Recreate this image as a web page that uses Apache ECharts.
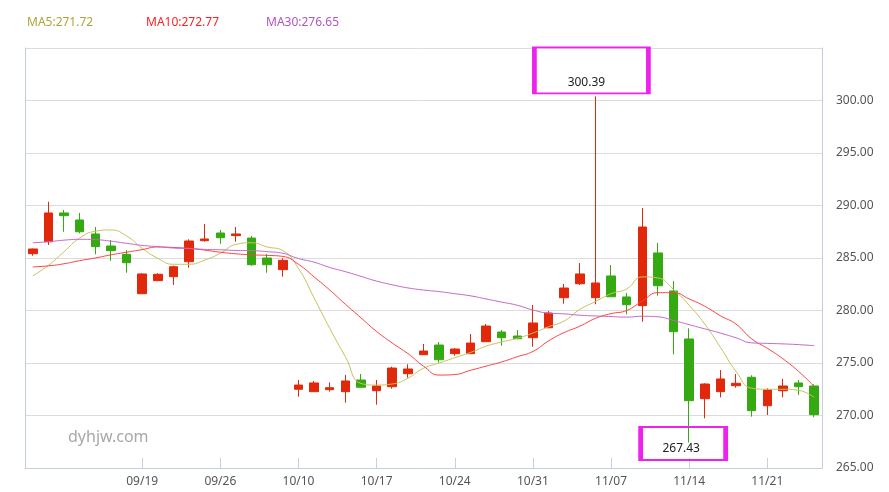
<!DOCTYPE html>
<html>
<head>
<meta charset="utf-8">
<script src="https://cdn.jsdelivr.net/npm/echarts@6/dist/echarts.min.js"></script>
<style>
html,body{margin:0;padding:0;background:#fff;}
#main{width:889px;height:492px;}
</style>
</head>
<body>
<div id="main"></div>
<script>
const dates = ['09/06','09/07','09/08','09/09','09/12','09/13','09/14',
  '09/19','09/20','09/21','09/22','09/23',
  '09/26','09/27','09/28','09/29','09/30',
  '10/10','10/11','10/12','10/13','10/14',
  '10/17','10/18','10/19','10/20','10/21',
  '10/24','10/25','10/26','10/27','10/28',
  '10/31','11/01','11/02','11/03','11/04',
  '11/07','11/08','11/09','11/10','11/11',
  '11/14','11/15','11/16','11/17','11/18',
  '11/21','11/22','11/23','11/24'];
const tickDates = ['09/19','09/26','10/10','10/17','10/24','10/31','11/07','11/14','11/21'];

const opens = [285.41,286.55,289.29,288.62,287.29,286.14,285.35,
  281.60,282.84,283.22,284.65,286.65,
  287.38,287.13,286.90,285.00,283.89,
  272.50,272.27,272.46,272.27,273.38,
  272.36,272.74,273.98,275.79,276.71,
  275.89,275.89,277.03,277.95,277.57,
  277.41,278.36,281.22,282.55,281.22,
  283.29,281.29,280.46,285.48,281.86,
  277.29,271.60,272.27,272.84,273.64,
  270.93,272.36,273.10,272.81];
const closes = [285.86,289.29,289.03,287.50,286.08,285.70,284.55,
  283.48,283.45,284.17,286.62,286.81,
  286.93,287.29,284.36,284.36,284.78,
  272.90,273.10,272.65,273.29,272.69,
  272.81,274.52,274.43,276.14,275.31,
  276.33,276.90,278.52,277.41,277.31,
  278.81,279.76,282.14,283.48,282.62,
  281.31,280.55,287.95,282.36,277.98,
  271.41,273.00,273.48,273.07,270.46,
  272.43,272.81,272.74,270.08];
const lows = [285.22,286.24,287.50,287.35,285.35,284.74,283.60,
  281.60,282.80,282.43,284.08,286.55,
  286.36,286.55,284.27,283.60,283.22,
  271.79,272.27,272.27,271.22,272.69,
  271.03,272.55,273.60,275.79,275.03,
  275.70,275.89,277.03,276.65,277.26,
  276.55,278.30,280.65,282.43,280.59,
  281.31,279.64,278.93,281.41,275.83,
  267.43,269.73,271.73,272.65,269.89,
  270.05,271.73,271.95,269.83];
const highs = [285.90,290.36,289.57,289.29,287.95,286.71,285.76,
  283.55,283.55,284.27,286.78,288.24,
  287.67,287.95,287.10,285.38,284.97,
  273.38,273.29,273.16,273.86,273.95,
  273.38,274.65,274.88,276.81,277.00,
  276.43,277.76,278.71,278.14,278.14,
  280.52,279.95,282.52,284.52,300.39,
  284.33,281.67,289.76,286.43,282.81,
  278.30,273.07,274.33,273.95,273.83,
  272.59,273.48,273.38,272.97];

const ma5 = [283.3,284.3,285.6,286.9,287.55,287.67,287.1,285.92,284.97,284.4,
  284.4,284.8,285.45,286.3,286.45,286.05,285.7,284.0,281.2,278.3,
  275.6,273.05,272.9,273.0,273.55,274.5,275.0,275.5,276.0,276.6,
  277.0,277.35,277.85,278.45,279.0,280.1,280.85,281.6,282.05,283.2,
  283.1,282.0,280.5,278.7,276.5,274.2,272.6,272.5,272.5,272.4,271.72];
const ma10 = [284.15,284.25,284.45,284.75,285.0,285.3,285.55,285.8,286.05,286.0,
  285.92,285.75,285.55,285.4,285.3,285.25,285.15,284.4,283.2,281.95,
  280.6,279.3,278.0,276.9,275.9,274.7,273.85,273.9,274.3,274.7,
  275.1,275.6,276.1,277.1,277.9,278.5,279.25,279.7,280.0,280.9,
  281.7,281.7,281.1,280.4,279.5,278.7,277.3,276.4,275.4,274.2,272.77];
const ma30 = [286.45,286.55,286.7,286.78,286.75,286.6,286.4,286.2,286.08,285.95,
  285.9,285.82,285.78,285.72,285.7,285.6,285.45,284.95,284.6,284.1,
  283.7,283.25,282.8,282.45,282.15,281.95,281.8,281.6,281.4,281.1,
  280.8,280.5,280.05,279.75,279.68,279.55,279.48,279.42,279.37,279.45,
  279.4,279.05,278.65,278.25,277.85,277.4,276.92,276.87,276.82,276.75,276.65];

const FONT = '"Noto Sans", "Liberation Sans", sans-serif';
const candleData = dates.map((d, i) => [opens[i], closes[i], lows[i], highs[i]]);
const maxHigh = Math.max.apply(null, highs);
const maxIdx = highs.indexOf(maxHigh);
const minLow = Math.min.apply(null, lows);
const minIdx = lows.indexOf(minLow);
const showTick = (idx) => tickDates.indexOf(dates[idx]) >= 0;

const maColors = {MA5: '#c8c25e', MA10: '#ff4040', MA30: '#c466c8'};
const maText = {MA5: '#aea43c', MA10: '#ff1e1e', MA30: '#b256bf'};
const maLast = {MA5: ma5[ma5.length-1], MA10: ma10[ma10.length-1], MA30: ma30[ma30.length-1]};

function legendFor(name, left) {
  return {
    data: [name], left: left, top: 17, padding: 0,
    itemWidth: 0, itemHeight: 0, icon: 'rect',
    selectedMode: false,
    formatter: n => n + ':' + maLast[n].toFixed(2),
    textStyle: {color: maText[name], fontSize: 12, fontFamily: FONT, padding: [0,0,0,-5]}
  };
}

const chart = echarts.init(document.getElementById('main'), null, {renderer: 'canvas'});
chart.setOption({
  animation: false,
  backgroundColor: '#fff',
  textStyle: {fontFamily: FONT},
  legend: [legendFor('MA5', 27), legendFor('MA10', 146), legendFor('MA30', 266)],
  grid: {left: 25, right: 67, top: 48, bottom: 24, containLabel: false},
  graphic: [{
    type: 'text', left: 68, top: 429, silent: true,
    style: {text: 'dyhjw.com', fill: '#a8a8a8', fontSize: 16, fontFamily: FONT}
  }],
  xAxis: {
    type: 'category', data: dates, boundaryGap: true,
    axisLine: {lineStyle: {color: '#c4cfdd'}},
    axisTick: {show: true, inside: true, length: 10, alignWithLabel: true, interval: showTick, lineStyle: {color: '#c4cfdd'}},
    axisLabel: {interval: showTick, color: '#555', fontSize: 12, margin: 8, fontFamily: FONT},
    splitLine: {show: false}
  },
  yAxis: [{
    type: 'value', position: 'right', min: 265, max: 305, interval: 5, scale: true,
    axisLine: {show: true, lineStyle: {color: '#c4cfdd'}},
    axisTick: {show: false},
    axisLabel: {showMaxLabel: false, color: '#555', fontSize: 12, margin: 14, fontFamily: FONT,
      formatter: v => v.toFixed(2)},
    splitLine: {show: true, lineStyle: {color: '#dcdcdc'}}
  }, {
    type: 'value', position: 'left', min: 265, max: 305, interval: 5,
    axisLine: {show: true, lineStyle: {color: '#c4cfdd'}},
    axisTick: {show: false}, axisLabel: {show: false}, splitLine: {show: false}
  }],
  series: [{
    name: 'K', type: 'candlestick', data: candleData, barWidth: 9,
    itemStyle: {color: '#e2280a', color0: '#35a912', borderColor: '#e2280a', borderColor0: '#35a912', borderWidth: 1},
    markPoint: {
      animation: false,
      data: [{
        coord: [maxIdx, maxHigh], value: maxHigh.toFixed(2),
        symbol: 'rect', symbolSize: [114, 46], symbolOffset: [-4, -26],
        itemStyle: {color: 'rgba(255,255,255,0)', borderColor: '#ee22ee', borderWidth: 3},
        label: {show: true, formatter: '{c}', color: '#222', fontSize: 12, offset: [-5, 12], fontFamily: FONT}
      }, {
        coord: [minIdx, minLow], value: minLow.toFixed(2),
        symbol: 'rect', symbolSize: [85, 33], symbolOffset: [-6, 1],
        itemStyle: {color: 'rgba(255,255,255,0)', borderColor: '#ee22ee', borderWidth: 3},
        label: {show: true, formatter: '{c}', color: '#222', fontSize: 12, offset: [-2, 5], fontFamily: FONT}
      }]
    }
  }, {
    name: 'MA5', type: 'line', data: ma5, smooth: true, showSymbol: false, symbol: 'none',
    lineStyle: {width: 1, color: maColors.MA5}, itemStyle: {color: maColors.MA5}
  }, {
    name: 'MA10', type: 'line', data: ma10, smooth: true, showSymbol: false, symbol: 'none',
    lineStyle: {width: 1, color: maColors.MA10}, itemStyle: {color: maColors.MA10}
  }, {
    name: 'MA30', type: 'line', data: ma30, smooth: true, showSymbol: false, symbol: 'none',
    lineStyle: {width: 1, color: maColors.MA30}, itemStyle: {color: maColors.MA30}
  }]
});
</script>
</body>
</html>
